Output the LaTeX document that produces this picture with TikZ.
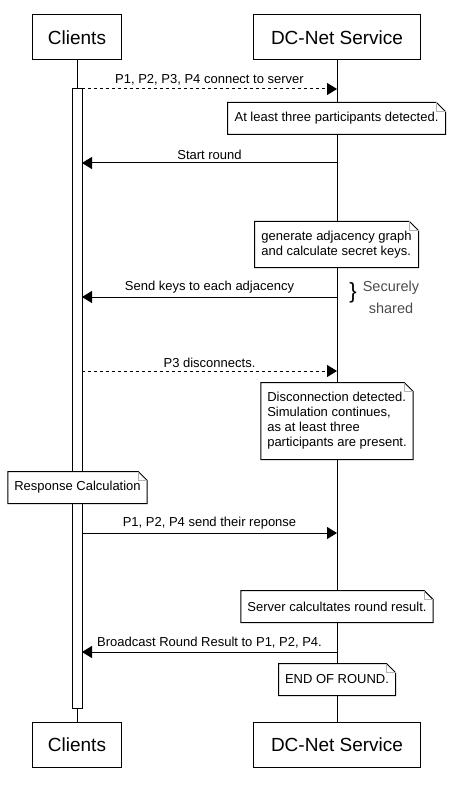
\documentclass[tikz,border=0pt]{standalone}
\usepackage{fontspec}
\setmainfont{Liberation Sans}
\usetikzlibrary{arrows.meta}

\begin{document}
\begin{tikzpicture}[x=1pt, y=-1pt, line width=1pt,
        every node/.style={font=\fontsize{13}{15}\selectfont, inner sep=1pt},
        actor/.style={draw, fill=white, font=\fontsize{19}{23}\selectfont,
            minimum height=45pt},
        msg/.style={-{Triangle[length=10pt, width=12pt]}},
        reply/.style={msg, dash pattern=on 3pt off 3pt},
        note/.style={align=left, inner xsep=6pt,
            append after command={\pgfextra{
                \draw[fill=white] (\tikzlastnode.north west) -- ([xshift=-9pt]\tikzlastnode.north east)
                    -- ([yshift=-9pt]\tikzlastnode.north east) -- (\tikzlastnode.south east)
                    -- (\tikzlastnode.south west) -- cycle;
                \draw[gray!60] ([xshift=-9pt]\tikzlastnode.north east)
                    |- ([yshift=-9pt]\tikzlastnode.north east);
            }}}]
        \useasboundingbox (0,0) rectangle (455,791);

        % Define participants
        \node[actor, minimum width=89pt] (cliTop) at (77,37.5) {Clients};
        \node[actor, minimum width=167pt] (srvTop) at (337,37.5) {DC-Net Service};
        \node[actor, minimum width=89pt] (cliBot) at (77,744.5) {Clients};
        \node[actor, minimum width=167pt] (srvBot) at (337,744.5) {DC-Net Service};

        % Draw lifelines
        \draw (cliTop) -- (cliBot);
        \draw (srvTop) -- (srvBot);

        % Activation of the clients
        \node[draw, fill=white, minimum width=9.5pt, minimum height=619pt, inner sep=0pt]
            (act) at (77.25,398.5) {};

        % Message ends
        \coordinate (c1) at (82,89);   \coordinate (s1) at (337,89);
        \coordinate (c2) at (82,163);  \coordinate (s2) at (337,163);
        \coordinate (c3) at (82,297);  \coordinate (s3) at (337,297);
        \coordinate (c4) at (82,371);  \coordinate (s4) at (337,371);
        \coordinate (c5) at (82,533);  \coordinate (s5) at (337,533);
        \coordinate (c6) at (82,652);  \coordinate (s6) at (337,652);

        % Draw messages
        \draw[reply] (c1) -- node[above=2pt] {P1, P2, P3, P4 connect to server} (s1);
        \draw[msg] (s2) -- node[above=2pt] {Start round} (c2);
        \draw[msg] (s3) -- node[above=2pt] {Send keys to each adjacency} (c3);
        \draw[reply] (c4) -- node[above=2pt] {P3 disconnects.} (s4);
        \draw[msg] (c5) -- node[above=2pt] {P1, P2, P4 send their reponse} (s5);
        \draw[msg] (s6) -- node[above=2pt] {Broadcast Round Result to P1, P2, P4.} (c6);

        % Notes
        \node[note, minimum width=217pt, minimum height=31pt] (detect) at (336.5,118.5)
            {At least three participants detected.};
        \node[note, minimum width=163pt, minimum height=45pt] (keys) at (336.5,244.5)
            {generate adjacency graph\\and calculate secret keys.};
        \node[note, minimum width=150pt, minimum height=76pt] (discon) at (337,421)
            {Disconnection detected.\\Simulation continues,\\as at least three\\participants are present.};
        \node[note, minimum width=135pt, minimum height=31pt] (calc) at (77.5,487.5)
            {Response Calculation};
        \node[note, minimum width=190pt, minimum height=31pt] (result) at (337,606.5)
            {Server calcultates round result.};
        \node[note, minimum width=110pt, minimum height=31pt] (end) at (337,679.5)
            {END OF ROUND.};

        % Brace beside the key exchange
        \node (brace) at (353,293) {\fontsize{22}{22}\selectfont\}};
        \node[black!70, inner sep=0pt, font=\fontsize{14.5}{17}\selectfont] (secure) at (391,288) {Securely};
        \node[black!70, inner sep=0pt, font=\fontsize{14.5}{17}\selectfont] (shared) at (391,308) {shared};
    \end{tikzpicture}
\end{document}
